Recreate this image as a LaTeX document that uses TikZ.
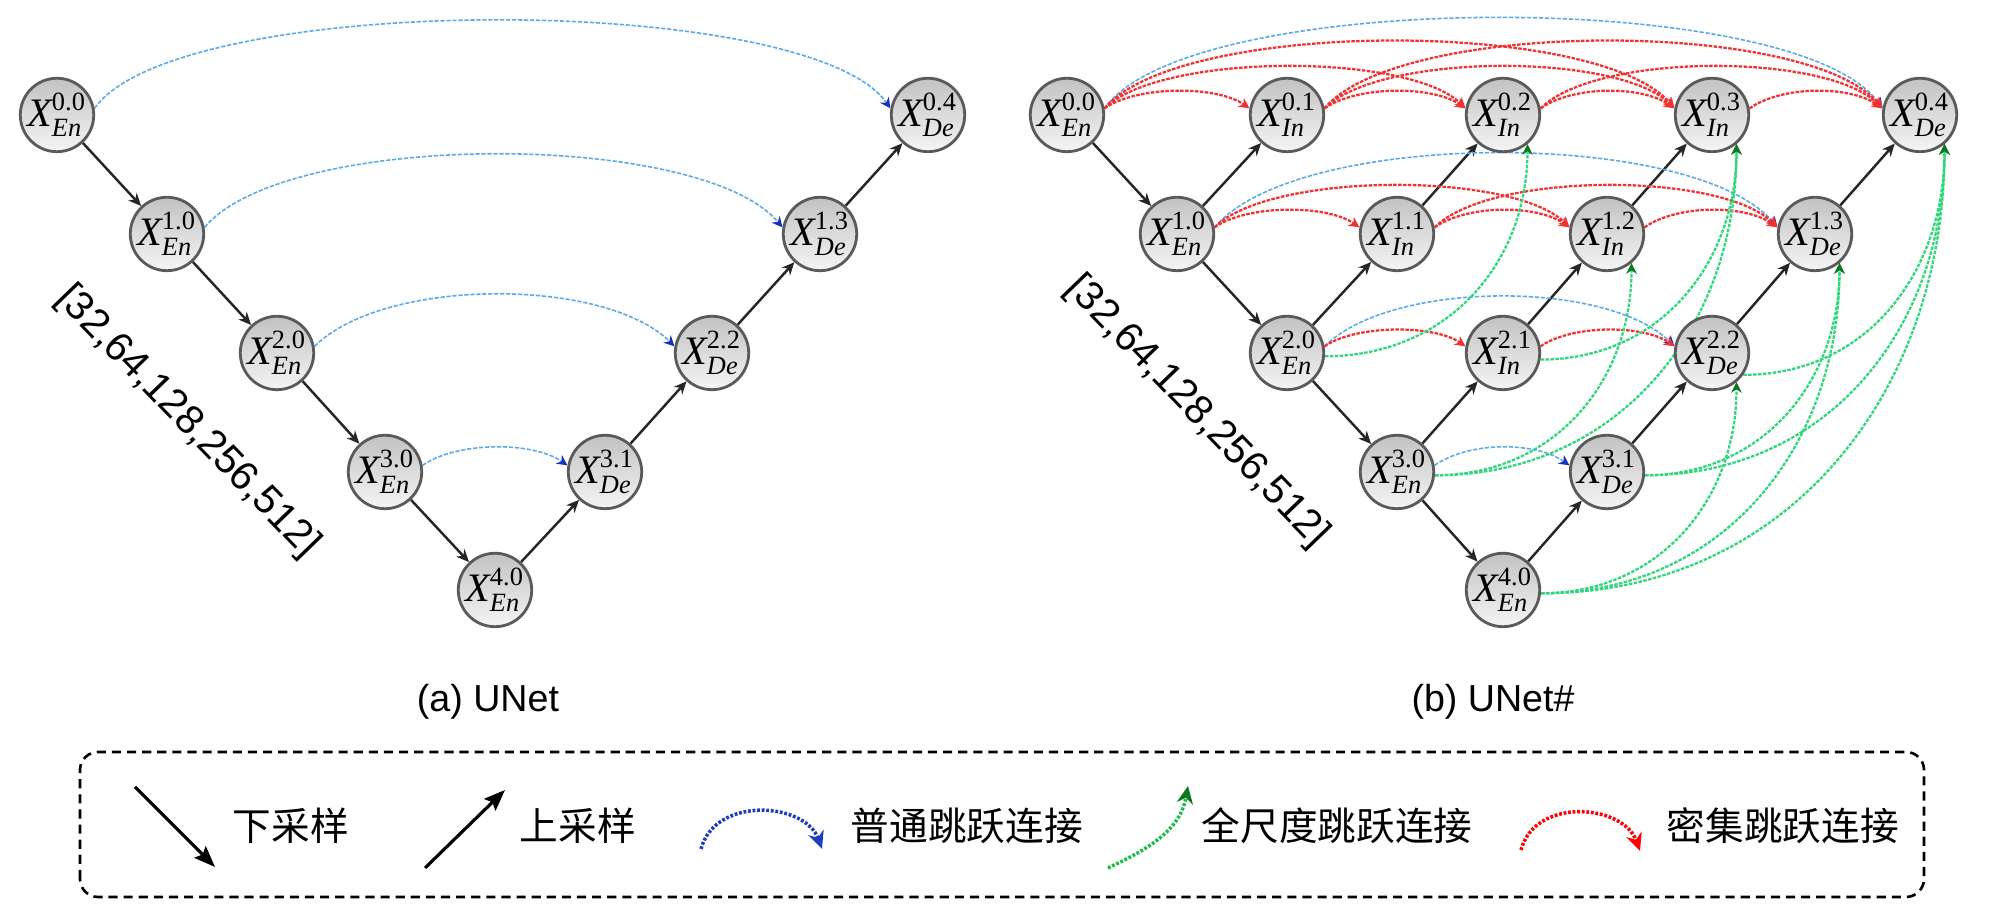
\documentclass[tikz,border=0pt]{standalone}
\usepackage{fontspec}
\setmainfont{Liberation Serif}
\newfontfamily\arialf{Liberation Sans}
\newfontfamily\cjkf{Noto Sans CJK SC}
\usetikzlibrary{arrows.meta,backgrounds}

\definecolor{skipblue}{RGB}{90,170,230}
\definecolor{tipblue}{RGB}{20,50,190}
\definecolor{skipred}{RGB}{240,50,50}
\definecolor{skipgreen}{RGB}{50,215,125}
\definecolor{tipgreen}{RGB}{10,120,30}
\definecolor{nodeedge}{RGB}{90,90,90}
\definecolor{lgblue}{RGB}{30,60,190}
\definecolor{lggreen}{RGB}{30,190,70}

\newcommand{\nlab}[2]{$\mbox{\itshape X}^{\mbox{\fontsize{7.5}{7.5}\selectfont #1}}_{\mbox{\fontsize{7.5}{7.5}\selectfont\itshape #2}}$}
\newcommand{\sarc}[6]{\draw[#1] (#2.10) .. controls +(#4:#6) and +(#5:#6) .. (#3.170);}

\tikzset{
  unode/.style={circle, draw=nodeedge, line width=0.8pt, top color=black!24, bottom color=black!4,
    minimum size=0.68cm, inner sep=0pt, font=\fontsize{11.5}{13}\selectfont},
  samp/.style={draw=black!85, line width=0.7pt, -{Stealth[length=3.6pt,width=3.2pt]}},
  blueskip/.style={draw=skipblue, line width=0.45pt, dash pattern=on 1.2pt off 0.5pt,
    -{Stealth[length=3pt,width=3pt,color=tipblue]}},
  redskip/.style={draw=skipred, line width=0.65pt, dash pattern=on 1pt off 0.4pt,
    -{Stealth[length=3pt,width=3pt]}},
  greenskip/.style={draw=skipgreen, line width=0.65pt, dash pattern=on 1pt off 0.4pt,
    -{Stealth[length=3pt,width=3pt,color=tipgreen]}},
  legarrow/.style={draw=black, line width=0.9pt, -{Stealth[length=6pt,width=4.6pt,inset=1pt]}},
  legblue/.style={draw=lgblue, line width=1pt, dash pattern=on 0.8pt off 0.5pt,
    -{Stealth[length=5pt,width=4.6pt]}},
  leggreen/.style={draw=lggreen, line width=1pt, dash pattern=on 0.8pt off 0.5pt,
    -{Stealth[length=5pt,width=4.6pt,color=tipgreen]}},
  legred/.style={draw=red, line width=1pt, dash pattern=on 0.8pt off 0.5pt,
    -{Stealth[length=5pt,width=4.6pt]}},
  legtext/.style={anchor=west, inner sep=0pt, font=\cjkf\fontsize{11}{12}\selectfont},
  captext/.style={font=\arialf\fontsize{10.7}{12}\selectfont},
  dimtext/.style={rotate=-46, font=\arialf\fontsize{11.5}{13}\selectfont},
  legbox/.style={draw=black, line width=0.75pt, dash pattern=on 2.6pt off 1.7pt, rounded corners=0.18cm}
}

\begin{document}
\begin{tikzpicture}
\useasboundingbox (0,0) rectangle (19.99,9.19);

% ---------- (a) UNet ----------
\node[unode] (L00) at (0.57,8.04) {\nlab{0.0}{En}};
\node[unode] (L10) at (1.67,6.85) {\nlab{1.0}{En}};
\node[unode] (L20) at (2.77,5.66) {\nlab{2.0}{En}};
\node[unode] (L30) at (3.85,4.47) {\nlab{3.0}{En}};
\node[unode] (L40) at (4.95,3.29) {\nlab{4.0}{En}};
\node[unode] (L31) at (6.05,4.47) {\nlab{3.1}{De}};
\node[unode] (L22) at (7.12,5.66) {\nlab{2.2}{De}};
\node[unode] (L13) at (8.20,6.85) {\nlab{1.3}{De}};
\node[unode] (L04) at (9.28,8.04) {\nlab{0.4}{De}};

% ---------- (b) UNet# ----------
\node[unode] (R00) at (10.67,8.04) {\nlab{0.0}{En}};
\node[unode] (R10) at (11.77,6.85) {\nlab{1.0}{En}};
\node[unode] (R20) at (12.87,5.66) {\nlab{2.0}{En}};
\node[unode] (R30) at (13.97,4.47) {\nlab{3.0}{En}};
\node[unode] (R40) at (15.03,3.29) {\nlab{4.0}{En}};
\node[unode] (R01) at (12.87,8.04) {\nlab{0.1}{In}};
\node[unode] (R11) at (13.97,6.85) {\nlab{1.1}{In}};
\node[unode] (R21) at (15.03,5.66) {\nlab{2.1}{In}};
\node[unode] (R31) at (16.07,4.47) {\nlab{3.1}{De}};
\node[unode] (R02) at (15.03,8.04) {\nlab{0.2}{In}};
\node[unode] (R12) at (16.07,6.85) {\nlab{1.2}{In}};
\node[unode] (R22) at (17.12,5.66) {\nlab{2.2}{De}};
\node[unode] (R03) at (17.12,8.04) {\nlab{0.3}{In}};
\node[unode] (R13) at (18.15,6.85) {\nlab{1.3}{De}};
\node[unode] (R04) at (19.20,8.04) {\nlab{0.4}{De}};

% captions and channel lists
\node[captext] (capa) at (4.88,2.17) {(a) UNet};
\node[captext] (capb) at (14.93,2.17) {(b) UNet\#};
\node[dimtext] (dima) at (1.875,4.97) {[32,64,128,256,512]};
\node[dimtext] (dimb) at (11.97,5.07) {[32,64,128,256,512]};

\begin{scope}[on background layer]
% left: sampling
\draw[samp] (L00) -- (L10);
\draw[samp] (L10) -- (L20);
\draw[samp] (L20) -- (L30);
\draw[samp] (L30) -- (L40);
\draw[samp] (L40) -- (L31);
\draw[samp] (L31) -- (L22);
\draw[samp] (L22) -- (L13);
\draw[samp] (L13) -- (L04);
% left: plain skips
\sarc{blueskip}{L00}{L04}{55}{125}{1.43}
\sarc{blueskip}{L10}{L13}{50}{130}{1.27}
\sarc{blueskip}{L20}{L22}{45}{135}{0.98}
\sarc{blueskip}{L30}{L31}{35}{145}{0.42}

% right: sampling
\draw[samp] (R00) -- (R10);
\draw[samp] (R10) -- (R20);
\draw[samp] (R20) -- (R30);
\draw[samp] (R30) -- (R40);
\draw[samp] (R10) -- (R01);
\draw[samp] (R20) -- (R11);
\draw[samp] (R11) -- (R02);
\draw[samp] (R30) -- (R21);
\draw[samp] (R21) -- (R12);
\draw[samp] (R12) -- (R03);
\draw[samp] (R40) -- (R31);
\draw[samp] (R31) -- (R22);
\draw[samp] (R22) -- (R13);
\draw[samp] (R13) -- (R04);

% right: plain skips
\sarc{blueskip}{R00}{R04}{55}{125}{1.47}
\sarc{blueskip}{R10}{R13}{50}{130}{1.29}
\sarc{blueskip}{R20}{R22}{45}{135}{0.94}
\sarc{blueskip}{R30}{R31}{35}{145}{0.42}

% right: dense skips
\sarc{redskip}{R00}{R01}{35}{145}{0.40}
\sarc{redskip}{R01}{R02}{35}{145}{0.40}
\sarc{redskip}{R02}{R03}{35}{145}{0.40}
\sarc{redskip}{R03}{R04}{35}{145}{0.40}
\sarc{redskip}{R00}{R02}{45}{135}{0.79}
\sarc{redskip}{R01}{R03}{45}{135}{0.79}
\sarc{redskip}{R02}{R04}{45}{135}{0.79}
\sarc{redskip}{R00}{R03}{50}{130}{1.17}
\sarc{redskip}{R01}{R04}{50}{130}{1.17}
\sarc{redskip}{R10}{R11}{35}{145}{0.40}
\sarc{redskip}{R11}{R12}{35}{145}{0.40}
\sarc{redskip}{R12}{R13}{35}{145}{0.40}
\sarc{redskip}{R10}{R12}{45}{135}{0.79}
\sarc{redskip}{R11}{R13}{45}{135}{0.79}
\sarc{redskip}{R20}{R21}{35}{145}{0.38}
\sarc{redskip}{R21}{R22}{35}{145}{0.38}

% right: full-scale skips
\draw[greenskip] (R20.-5) to[out=0,in=-90,looseness=1.05] (R02.-50);
\draw[greenskip] (R30.-5) to[out=0,in=-90,looseness=1.05] (R12.-50);
\draw[greenskip] (R30.-5) to[out=0,in=-90,looseness=1.05] (R03.-50);
\draw[greenskip] (R21.-10) to[out=0,in=-90,looseness=1.05] (R03.-50);
\draw[greenskip] (R40.-5) to[out=0,in=-90,looseness=1.05] (R22.-50);
\draw[greenskip] (R40.-5) to[out=0,in=-90,looseness=1.05] (R13.-50);
\draw[greenskip] (R40.-5) to[out=0,in=-90,looseness=1.05] (R04.-50);
\draw[greenskip] (R31.-5) to[out=0,in=-90,looseness=1.05] (R13.-50);
\draw[greenskip] (R31.-5) to[out=0,in=-90,looseness=1.05] (R04.-50);
\draw[greenskip] (R22.-35) to[out=0,in=-90,looseness=1.05] (R04.-50);
\end{scope}

% ---------- legend ----------
\draw[legbox] (0.80,0.22) rectangle (19.24,1.67);
\coordinate (ld1) at (1.35,1.32);
\coordinate (ld2) at (2.15,0.52);
\draw[legarrow] (ld1) -- (ld2);
\node[legtext] (lt1) at (2.32,0.93) {下采样};
\coordinate (lu1) at (4.25,0.51);
\coordinate (lu2) at (5.05,1.29);
\draw[legarrow] (lu1) -- (lu2);
\node[legtext] (lt2) at (5.19,0.93) {上采样};
\coordinate (lb1) at (7.01,0.70);
\coordinate (lb2) at (8.22,0.70);
\draw[legblue] (lb1) .. controls +(75:0.55) and +(110:0.5) .. (lb2);
\node[legtext] (lt3) at (8.50,0.93) {普通跳跃连接};
\coordinate (lg1) at (11.08,0.51);
\coordinate (lg2) at (11.88,1.33);
\draw[leggreen] (lg1) to[out=25,in=-100] (lg2);
\node[legtext] (lt4) at (12.01,0.93) {全尺度跳跃连接};
\coordinate (lr1) at (15.21,0.69);
\coordinate (lr2) at (16.40,0.68);
\draw[legred] (lr1) .. controls +(75:0.55) and +(110:0.5) .. (lr2);
\node[legtext] (lt5) at (16.66,0.93) {密集跳跃连接};
\end{tikzpicture}
\end{document}
